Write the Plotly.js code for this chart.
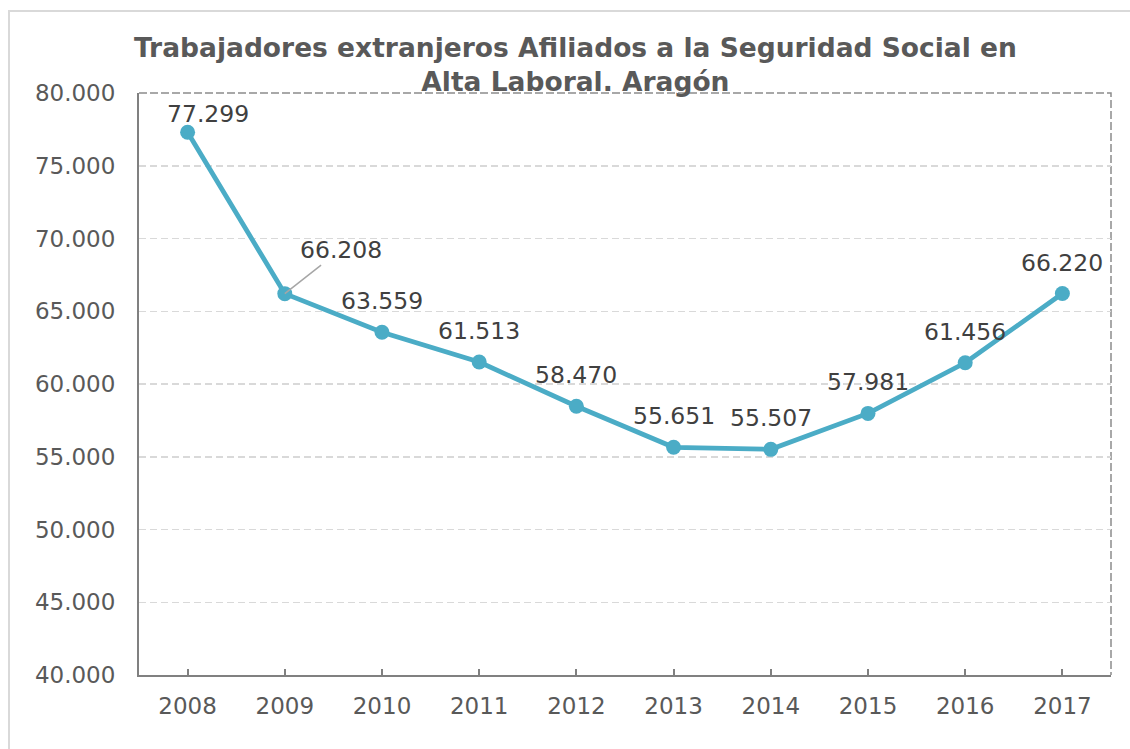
<!DOCTYPE html>
<html>
<head>
<meta charset="utf-8">
<script src="https://cdn.plot.ly/plotly-3.0.1.min.js"></script>
<style>
  html, body { margin: 0; padding: 0; background: #ffffff; overflow: hidden; }
  #chart { position: absolute; left: 0; top: 0; width: 1130px; height: 749px; }
  #frame { position: absolute; left: 8px; top: 10px; width: 1300px; height: 900px;
           border-left: 2px solid #d9d9d9; border-top: 2px solid #d9d9d9; pointer-events: none; }
</style>
</head>
<body>
<div id="frame"></div>
<div id="chart"></div>
<script>
const years = ['2008', '2009', '2010', '2011', '2012', '2013', '2014', '2015', '2016', '2017'];
const workers = [77299, 66208, 63559, 61513, 58470, 55651, 55507, 57981, 61456, 66220];
const yTicks = [40000, 45000, 50000, 55000, 60000, 65000, 70000, 75000, 80000];
const chartTitle = 'Trabajadores extranjeros Afiliados a la Seguridad Social en<br>Alta Laboral. Aragón';

const lineColor = '#4BACC6';
const fontFamily = 'DejaVu Sans, Verdana, sans-serif';

function fmt(v) {
  return String(v).replace(/\B(?=(\d{3})+(?!\d))/g, '.');
}

const annotations = years.map(function (yr, i) {
  const a = {
    x: i, y: workers[i], xref: 'x', yref: 'y',
    text: fmt(workers[i]),
    showarrow: false,
    font: { family: fontFamily, size: 23.5, color: '#404040' },
    yshift: 31
  };
  if (i === 0) { a.xshift = 20; a.yshift = 18; }
  if (i === 1) {
    a.showarrow = true; a.arrowhead = 0; a.arrowwidth = 1.5; a.arrowcolor = '#a6a6a6';
    a.ax = 56; a.ay = -44; a.yshift = 0;
  }
  return a;
});

const trace = {
  x: years, y: workers, type: 'scatter', mode: 'lines+markers',
  line: { color: lineColor, width: 4.8 },
  marker: { color: lineColor, size: 15 },
  hoverinfo: 'skip', cliponaxis: false
};

const layout = {
  width: 1130, height: 749,
  margin: { l: 139, r: 19, t: 93, b: 74, pad: 0 },
  paper_bgcolor: 'rgba(0,0,0,0)', plot_bgcolor: '#ffffff',
  separators: ',.',
  showlegend: false,
  font: { family: fontFamily, color: '#595959' },
  title: {
    text: chartTitle,
    font: { family: fontFamily, size: 26.5, color: '#595959', weight: 'bold' },
    x: 0.449, xanchor: 'center', xref: 'paper',
    y: 1 - 57 / 749, yanchor: 'top', yref: 'container'
  },
  xaxis: {
    type: 'category', range: [-0.5, 9.5],
    showline: true, linecolor: '#808080', linewidth: 2,
    ticks: 'inside', ticklen: 6, tickcolor: '#808080', tickwidth: 2,
    showgrid: false, zeroline: false,
    tickfont: { family: fontFamily, size: 23, color: '#595959' },
    ticklabelstandoff: 9
  },
  yaxis: {
    range: [40000, 80000], tickvals: yTicks, tickformat: ',d',
    showline: true, linecolor: '#808080', linewidth: 2,
    ticks: '', showgrid: true, gridcolor: '#d9d9d9', gridwidth: 1.5, griddash: '7px,4px',
    zeroline: false,
    tickfont: { family: fontFamily, size: 23, color: '#595959' },
    ticklabelstandoff: 17
  },
  shapes: [{
    type: 'path', xref: 'paper', yref: 'paper', path: 'M0,1 L1,1 L1,0',
    line: { color: '#8c8c8c', width: 1.5, dash: '8px,3px' }, layer: 'below'
  }],
  annotations: annotations
};

Plotly.newPlot('chart', [trace], layout, { staticPlot: true, displayModeBar: false });
</script>
</body>
</html>
